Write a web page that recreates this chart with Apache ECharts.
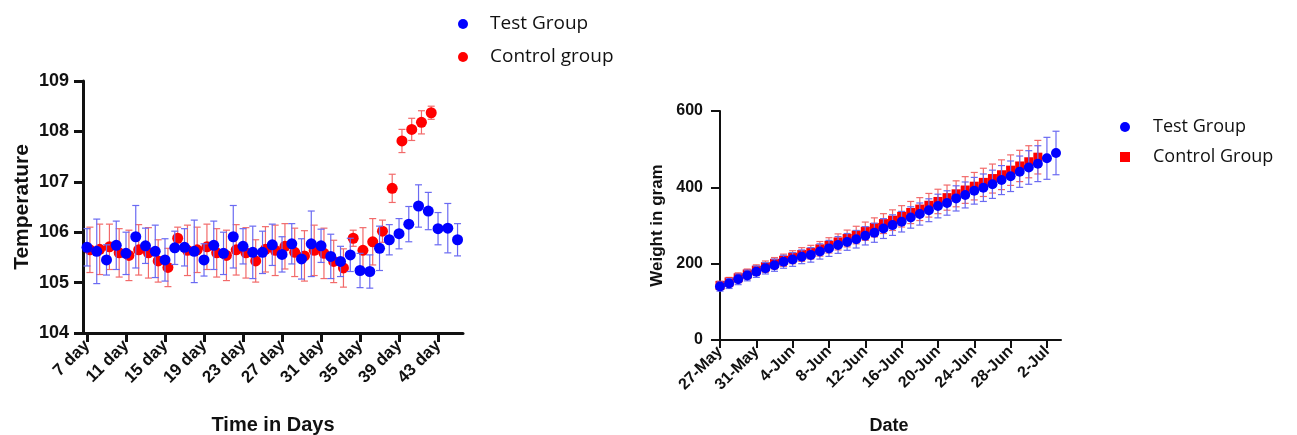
<!DOCTYPE html>
<html lang="en">
<head>
<meta charset="UTF-8">
<title>Temperature and weight</title>
<style>
  * { margin: 0; padding: 0; }
  body { background: #fff; }
  #box { width: 1297px; height: 435px; }
</style>
<script src="https://cdn.jsdelivr.net/npm/echarts@6/dist/echarts.min.js"></script>
</head>
<body>
<div id="box"></div>
<script>
// temperature, one reading a day starting at day 7
const tempStartDay = 7;
const tempTest = [105.70, 105.62, 105.45, 105.74, 105.58, 105.91, 105.73, 105.62, 105.45, 105.69,
  105.70, 105.62, 105.45, 105.74, 105.58, 105.91, 105.72, 105.60, 105.60, 105.75,
  105.56, 105.77, 105.47, 105.77, 105.73, 105.52, 105.42, 105.55, 105.24, 105.22,
  105.68, 105.85, 105.97, 106.16, 106.52, 106.42, 106.07, 106.08, 105.85];
const tempTestErr = [0.37, 0.64, 0.30, 0.48, 0.42, 0.62, 0.35, 0.52, 0.42, 0.33,
  0.37, 0.62, 0.32, 0.48, 0.42, 0.62, 0.35, 0.52, 0.42, 0.41,
  0.35, 0.40, 0.40, 0.65, 0.33, 0.44, 0.30, 0.33, 0.34, 0.33,
  0.44, 0.30, 0.30, 0.35, 0.42, 0.37, 0.32, 0.49, 0.32];
const tempCtrl = [105.65, 105.66, 105.71, 105.59, 105.54, 105.65, 105.59, 105.43, 105.30, 105.88,
  105.64, 105.65, 105.71, 105.59, 105.54, 105.65, 105.59, 105.43, 105.66, 105.64,
  105.72, 105.60, 105.53, 105.64, 105.58, 105.42, 105.29, 105.88, 105.64, 105.81,
  106.02, 106.87, 107.81, 108.04, 108.18, 108.37];
const tempCtrlErr = [0.45, 0.50, 0.45, 0.48, 0.50, 0.50, 0.50, 0.42, 0.38, 0.22,
  0.50, 0.45, 0.45, 0.48, 0.50, 0.50, 0.50, 0.42, 0.45, 0.50,
  0.45, 0.48, 0.50, 0.50, 0.50, 0.42, 0.38, 0.16, 0.45, 0.46,
  0.22, 0.28, 0.23, 0.22, 0.23, 0.13];
const dayTicks = [7, 11, 15, 19, 23, 27, 31, 35, 39, 43];

// weight in gram, one reading a day starting at 27-May (day 0)
const weightTest = [140, 148, 159, 169, 179, 188, 196, 205, 211, 218,
  223, 232, 240, 249, 257, 264, 273, 281, 292, 301,
  310, 321, 330, 340, 351, 359, 371, 380, 391, 399,
  408, 419, 429, 441, 452, 462, 476, 490];
const weightTestErr = [12, 13, 14, 14, 15, 15, 16, 17, 18, 18,
  19, 20, 21, 22, 22, 23, 24, 25, 26, 27,
  27, 28, 29, 30, 31, 32, 33, 34, 35, 36,
  37, 38, 40, 41, 44, 47, 55, 57];
const weightCtrl = [143, 152, 163, 173, 183, 192, 201, 209, 217, 224,
  230, 239, 248, 257, 266, 275, 285, 295, 305, 314,
  324, 334, 343, 353, 363, 373, 383, 393, 403, 413,
  423, 433, 445, 456, 467, 479];
const weightCtrlErr = [11, 12, 13, 13, 14, 15, 15, 16, 17, 18,
  18, 19, 20, 21, 22, 23, 24, 25, 26, 27,
  28, 29, 30, 31, 32, 33, 34, 35, 36, 37,
  38, 39, 40, 41, 42, 44];
const dateTicks = [0, 4, 8, 12, 16, 20, 24, 28, 32, 36];
const dateLabels = ['27-May', '31-May', '4-Jun', '8-Jun', '12-Jun', '16-Jun', '20-Jun', '24-Jun', '28-Jun', '2-Jul'];

const BLUE = '#0000ff';
const RED = '#ff0000';
const BLUE_BAR = '#6a6af2';
const RED_BAR = '#f26a6a';
const ctrlShift = 0.3; // control dots sit a little right of the test dots

const tickFont = { fontFamily: 'Liberation Sans', fontWeight: 'bold', color: '#111' };

function points(vals, start, shift) {
  return vals.map((v, i) => [start + i + shift, v]);
}
function bars(vals, errs, start, shift) {
  return vals.map((v, i) => [start + i + shift, v - errs[i], v + errs[i]]);
}
function errorBars(color) {
  return function (params, api) {
    const x = api.value(0);
    const lo = api.coord([x, api.value(1)]);
    const hi = api.coord([x, api.value(2)]);
    const w = 3.5;
    const style = { stroke: color, lineWidth: 1.2 };
    return {
      type: 'group',
      children: [
        { type: 'line', shape: { x1: lo[0], y1: lo[1], x2: hi[0], y2: hi[1] }, style },
        { type: 'line', shape: { x1: hi[0] - w, y1: hi[1], x2: hi[0] + w, y2: hi[1] }, style },
        { type: 'line', shape: { x1: lo[0] - w, y1: lo[1], x2: lo[0] + w, y2: lo[1] }, style }
      ]
    };
  };
}

const chart = echarts.init(document.getElementById('box'));

chart.setOption({
  animation: false,
  backgroundColor: '#fff',
  legend: [
    {
      orient: 'vertical', left: 458, top: 14, padding: 0,
      itemWidth: 10, itemHeight: 10, itemGap: 13,
      textStyle: { fontFamily: 'Open Sans', fontSize: 19, color: '#111', lineHeight: 20, padding: [0, 0, 0, 17] },
      data: [{ name: 'Test Group', icon: 'circle' }, { name: 'Control group', icon: 'circle' }]
    },
    {
      orient: 'vertical', left: 1120, top: 117, padding: 0,
      itemWidth: 10, itemHeight: 10, itemGap: 10,
      textStyle: { fontFamily: 'Open Sans', fontSize: 18, color: '#111', lineHeight: 20, padding: [0, 0, 0, 18] },
      data: [{ name: 'Test Group', icon: 'circle' }, { name: 'Control Group', icon: 'rect' }]
    }
  ],
  grid: [
    { left: 83, top: 81, width: 380, height: 252, outerBoundsMode: 'none' },
    { left: 717, top: 111, width: 344, height: 229, outerBoundsMode: 'none' }
  ],
  xAxis: [
    {
      type: 'value', gridIndex: 0, min: 6.59, max: 45.56,
      name: 'Time in Days', nameLocation: 'middle', nameGap: 82,
      nameTextStyle: Object.assign({ fontSize: 20 }, tickFont),
      axisLine: { show: true, lineStyle: { color: '#111', width: 3 } },
      axisTick: { show: true, length: 9, lineStyle: { color: '#111', width: 3 }, customValues: dayTicks },
      axisLabel: Object.assign({ fontSize: 17, rotate: 45, margin: 10, customValues: dayTicks,
        formatter: v => v + ' day' }, tickFont),
      splitLine: { show: false }
    },
    {
      type: 'value', gridIndex: 1, min: -0.33, max: 37.55,
      name: 'Date', nameLocation: 'middle', nameGap: 77,
      nameTextStyle: Object.assign({ fontSize: 18 }, tickFont),
      axisLine: { show: true, lineStyle: { color: '#111', width: 2 } },
      axisTick: { show: true, length: 8, lineStyle: { color: '#111', width: 2 }, customValues: dateTicks },
      axisLabel: Object.assign({ fontSize: 16, rotate: 45, margin: 9, customValues: dateTicks,
        formatter: v => dateLabels[dateTicks.indexOf(Math.round(v))] }, tickFont),
      splitLine: { show: false }
    }
  ],
  yAxis: [
    {
      type: 'value', gridIndex: 0, min: 104, max: 109, interval: 1,
      name: 'Temperature', nameLocation: 'middle', nameGap: 50,
      nameTextStyle: Object.assign({ fontSize: 21 }, tickFont),
      axisLine: { show: true, lineStyle: { color: '#111', width: 3 } },
      axisTick: { show: true, length: 9, lineStyle: { color: '#111', width: 3 } },
      axisLabel: Object.assign({ fontSize: 18, margin: 14 }, tickFont),
      splitLine: { show: false }
    },
    {
      type: 'value', gridIndex: 1, min: 0, max: 600, interval: 200,
      name: 'Weight in gram', nameLocation: 'middle', nameGap: 51,
      nameTextStyle: Object.assign({ fontSize: 17 }, tickFont),
      axisLine: { show: true, lineStyle: { color: '#111', width: 2 } },
      axisTick: { show: true, length: 9, lineStyle: { color: '#111', width: 2 } },
      axisLabel: Object.assign({ fontSize: 16, margin: 14 }, tickFont),
      splitLine: { show: false }
    }
  ],
  series: [
    // temperature
    { name: 'Control group bars', type: 'custom', xAxisIndex: 0, yAxisIndex: 0, silent: true,
      renderItem: errorBars(RED_BAR), encode: { x: 0, y: [1, 2] },
      data: bars(tempCtrl, tempCtrlErr, tempStartDay, ctrlShift), z: 2 },
    { name: 'Control group', type: 'scatter', xAxisIndex: 0, yAxisIndex: 0,
      symbol: 'circle', symbolSize: 11, itemStyle: { color: RED, opacity: 1 },
      data: points(tempCtrl, tempStartDay, ctrlShift), z: 3 },
    { name: 'Test Group bars', type: 'custom', xAxisIndex: 0, yAxisIndex: 0, silent: true,
      renderItem: errorBars(BLUE_BAR), encode: { x: 0, y: [1, 2] },
      data: bars(tempTest, tempTestErr, tempStartDay, 0), z: 4 },
    { name: 'Test Group', type: 'scatter', xAxisIndex: 0, yAxisIndex: 0,
      symbol: 'circle', symbolSize: 11, itemStyle: { color: BLUE, opacity: 1 },
      data: points(tempTest, tempStartDay, 0), z: 5 },
    // weight
    { name: 'Control Group bars', type: 'custom', xAxisIndex: 1, yAxisIndex: 1, silent: true,
      renderItem: errorBars(RED_BAR), encode: { x: 0, y: [1, 2] },
      data: bars(weightCtrl, weightCtrlErr, 0, 0), z: 2 },
    { name: 'Control Group', type: 'scatter', xAxisIndex: 1, yAxisIndex: 1,
      symbol: 'rect', symbolSize: 9, itemStyle: { color: RED, opacity: 1 },
      data: points(weightCtrl, 0, 0), z: 3 },
    { name: 'Test Group bars', type: 'custom', xAxisIndex: 1, yAxisIndex: 1, silent: true,
      renderItem: errorBars(BLUE_BAR), encode: { x: 0, y: [1, 2] },
      data: bars(weightTest, weightTestErr, 0, 0), z: 4 },
    { name: 'Test Group', type: 'scatter', xAxisIndex: 1, yAxisIndex: 1,
      symbol: 'circle', symbolSize: 10, itemStyle: { color: BLUE, opacity: 1 },
      data: points(weightTest, 0, 0), z: 5 }
  ]
});
</script>
</body>
</html>
